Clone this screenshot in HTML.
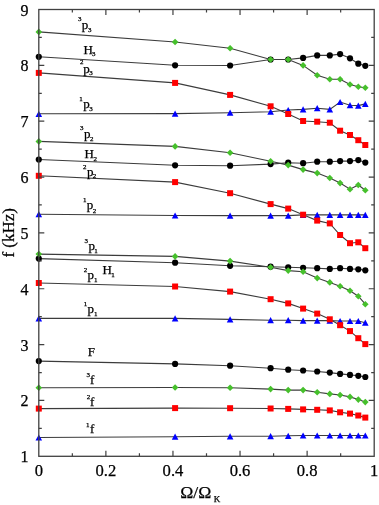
<!DOCTYPE html>
<html><head><meta charset="utf-8"><style>
html,body{margin:0;padding:0;background:#fff;}
body{width:379px;height:505px;overflow:hidden;}
svg{display:block;filter:blur(0.35px);}
text{font-family:"Liberation Serif",serif;fill:#000;stroke:#000;stroke-width:0.25px;}
.t{font-size:16px;}
.tx{font-size:16.6px;}
.l{font-size:13px;}
.s{font-size:7px;}
.ax{font-size:17px;}
.ax2{font-size:17.6px;}
.k{font-size:9px;}
</style></head><body>
<svg width="379" height="505" viewBox="0 0 379 505">
<rect width="379" height="505" fill="#fff"/>
<polyline points="38.8,113.8 175.1,113.6 230.1,112.7 270.6,111.7 288.2,110 303.1,109.4 317.2,108.2 329.8,109.4 340.1,102 350,105.2 358.3,105.6 365.3,103.9" fill="none" stroke="#3c3c3c" stroke-width="1.1"/>
<path d="M38.8 110.7L42.1 116.9L35.5 116.9Z" fill="#0000ff"/>
<path d="M175.1 110.5L178.4 116.7L171.8 116.7Z" fill="#0000ff"/>
<path d="M230.1 109.6L233.4 115.8L226.8 115.8Z" fill="#0000ff"/>
<path d="M270.6 108.6L273.9 114.8L267.3 114.8Z" fill="#0000ff"/>
<path d="M288.2 106.9L291.5 113.1L284.9 113.1Z" fill="#0000ff"/>
<path d="M303.1 106.3L306.4 112.5L299.8 112.5Z" fill="#0000ff"/>
<path d="M317.2 105.1L320.5 111.3L313.9 111.3Z" fill="#0000ff"/>
<path d="M329.8 106.3L333.1 112.5L326.5 112.5Z" fill="#0000ff"/>
<path d="M340.1 98.9L343.4 105.1L336.8 105.1Z" fill="#0000ff"/>
<path d="M350 102.1L353.3 108.3L346.7 108.3Z" fill="#0000ff"/>
<path d="M358.3 102.5L361.6 108.7L355 108.7Z" fill="#0000ff"/>
<path d="M365.3 100.8L368.6 107L362 107Z" fill="#0000ff"/>
<polyline points="38.8,214.2 175.1,215.5 230.1,215.6 270.6,215.6 288.2,215.6 303.1,214.9 317.2,214.9 329.8,214.9 340.1,214.9 350,214.9 358.3,214.9 365.3,214.9" fill="none" stroke="#3c3c3c" stroke-width="1.1"/>
<path d="M38.8 211.1L42.1 217.3L35.5 217.3Z" fill="#0000ff"/>
<path d="M175.1 212.4L178.4 218.6L171.8 218.6Z" fill="#0000ff"/>
<path d="M230.1 212.5L233.4 218.7L226.8 218.7Z" fill="#0000ff"/>
<path d="M270.6 212.5L273.9 218.7L267.3 218.7Z" fill="#0000ff"/>
<path d="M288.2 212.5L291.5 218.7L284.9 218.7Z" fill="#0000ff"/>
<path d="M303.1 211.8L306.4 218L299.8 218Z" fill="#0000ff"/>
<path d="M317.2 211.8L320.5 218L313.9 218Z" fill="#0000ff"/>
<path d="M329.8 211.8L333.1 218L326.5 218Z" fill="#0000ff"/>
<path d="M340.1 211.8L343.4 218L336.8 218Z" fill="#0000ff"/>
<path d="M350 211.8L353.3 218L346.7 218Z" fill="#0000ff"/>
<path d="M358.3 211.8L361.6 218L355 218Z" fill="#0000ff"/>
<path d="M365.3 211.8L368.6 218L362 218Z" fill="#0000ff"/>
<polyline points="38.8,318.4 175.1,318.4 230.1,319.4 270.6,320.2 288.2,320.2 303.1,320.6 317.2,320.6 329.8,320.6 340.1,321 350,321 358.3,321 365.3,322.7" fill="none" stroke="#3c3c3c" stroke-width="1.1"/>
<path d="M38.8 315.3L42.1 321.5L35.5 321.5Z" fill="#0000ff"/>
<path d="M175.1 315.3L178.4 321.5L171.8 321.5Z" fill="#0000ff"/>
<path d="M230.1 316.3L233.4 322.5L226.8 322.5Z" fill="#0000ff"/>
<path d="M270.6 317.1L273.9 323.3L267.3 323.3Z" fill="#0000ff"/>
<path d="M288.2 317.1L291.5 323.3L284.9 323.3Z" fill="#0000ff"/>
<path d="M303.1 317.5L306.4 323.7L299.8 323.7Z" fill="#0000ff"/>
<path d="M317.2 317.5L320.5 323.7L313.9 323.7Z" fill="#0000ff"/>
<path d="M329.8 317.5L333.1 323.7L326.5 323.7Z" fill="#0000ff"/>
<path d="M340.1 317.9L343.4 324.1L336.8 324.1Z" fill="#0000ff"/>
<path d="M350 317.9L353.3 324.1L346.7 324.1Z" fill="#0000ff"/>
<path d="M358.3 317.9L361.6 324.1L355 324.1Z" fill="#0000ff"/>
<path d="M365.3 319.6L368.6 325.8L362 325.8Z" fill="#0000ff"/>
<polyline points="38.8,437.5 175.1,436.7 230.1,436.3 270.6,436.2 288.2,435.8 303.1,435.5 317.2,435.5 329.8,435.5 340.1,435.5 350,435.5 358.3,435.5 365.3,435.5" fill="none" stroke="#3c3c3c" stroke-width="1.1"/>
<path d="M38.8 434.4L42.1 440.6L35.5 440.6Z" fill="#0000ff"/>
<path d="M175.1 433.6L178.4 439.8L171.8 439.8Z" fill="#0000ff"/>
<path d="M230.1 433.2L233.4 439.4L226.8 439.4Z" fill="#0000ff"/>
<path d="M270.6 433.1L273.9 439.3L267.3 439.3Z" fill="#0000ff"/>
<path d="M288.2 432.7L291.5 438.9L284.9 438.9Z" fill="#0000ff"/>
<path d="M303.1 432.4L306.4 438.6L299.8 438.6Z" fill="#0000ff"/>
<path d="M317.2 432.4L320.5 438.6L313.9 438.6Z" fill="#0000ff"/>
<path d="M329.8 432.4L333.1 438.6L326.5 438.6Z" fill="#0000ff"/>
<path d="M340.1 432.4L343.4 438.6L336.8 438.6Z" fill="#0000ff"/>
<path d="M350 432.4L353.3 438.6L346.7 438.6Z" fill="#0000ff"/>
<path d="M358.3 432.4L361.6 438.6L355 438.6Z" fill="#0000ff"/>
<path d="M365.3 432.4L368.6 438.6L362 438.6Z" fill="#0000ff"/>
<polyline points="38.8,72.9 175.1,82.9 230.1,94.9 270.6,106.3 288.2,114 303.1,121 317.2,121.7 329.8,122.7 340.1,130.7 350,135 358.3,140.2 365.3,145" fill="none" stroke="#3c3c3c" stroke-width="1.1"/>
<rect x="35.8" y="69.9" width="6" height="6" fill="#ff0000"/>
<rect x="172.1" y="79.9" width="6" height="6" fill="#ff0000"/>
<rect x="227.1" y="91.9" width="6" height="6" fill="#ff0000"/>
<rect x="267.6" y="103.3" width="6" height="6" fill="#ff0000"/>
<rect x="285.2" y="111" width="6" height="6" fill="#ff0000"/>
<rect x="300.1" y="118" width="6" height="6" fill="#ff0000"/>
<rect x="314.2" y="118.7" width="6" height="6" fill="#ff0000"/>
<rect x="326.8" y="119.7" width="6" height="6" fill="#ff0000"/>
<rect x="337.1" y="127.7" width="6" height="6" fill="#ff0000"/>
<rect x="347" y="132" width="6" height="6" fill="#ff0000"/>
<rect x="355.3" y="137.2" width="6" height="6" fill="#ff0000"/>
<rect x="362.3" y="142" width="6" height="6" fill="#ff0000"/>
<polyline points="38.8,175.8 175.1,182.1 230.1,193.2 270.6,204.1 288.2,208.6 303.1,214.7 317.2,220.6 329.8,223.4 340.1,235 350,243.2 358.3,242.3 365.3,248.2" fill="none" stroke="#3c3c3c" stroke-width="1.1"/>
<rect x="35.8" y="172.8" width="6" height="6" fill="#ff0000"/>
<rect x="172.1" y="179.1" width="6" height="6" fill="#ff0000"/>
<rect x="227.1" y="190.2" width="6" height="6" fill="#ff0000"/>
<rect x="267.6" y="201.1" width="6" height="6" fill="#ff0000"/>
<rect x="285.2" y="205.6" width="6" height="6" fill="#ff0000"/>
<rect x="300.1" y="211.7" width="6" height="6" fill="#ff0000"/>
<rect x="314.2" y="217.6" width="6" height="6" fill="#ff0000"/>
<rect x="326.8" y="220.4" width="6" height="6" fill="#ff0000"/>
<rect x="337.1" y="232" width="6" height="6" fill="#ff0000"/>
<rect x="347" y="240.2" width="6" height="6" fill="#ff0000"/>
<rect x="355.3" y="239.3" width="6" height="6" fill="#ff0000"/>
<rect x="362.3" y="245.2" width="6" height="6" fill="#ff0000"/>
<polyline points="38.8,283 175.1,286.5 230.1,291.6 270.6,299.2 288.2,303.4 303.1,308.6 317.2,313.6 329.8,319.3 340.1,325.2 350,331.1 358.3,338.2 365.3,344.1" fill="none" stroke="#3c3c3c" stroke-width="1.1"/>
<rect x="35.8" y="280" width="6" height="6" fill="#ff0000"/>
<rect x="172.1" y="283.5" width="6" height="6" fill="#ff0000"/>
<rect x="227.1" y="288.6" width="6" height="6" fill="#ff0000"/>
<rect x="267.6" y="296.2" width="6" height="6" fill="#ff0000"/>
<rect x="285.2" y="300.4" width="6" height="6" fill="#ff0000"/>
<rect x="300.1" y="305.6" width="6" height="6" fill="#ff0000"/>
<rect x="314.2" y="310.6" width="6" height="6" fill="#ff0000"/>
<rect x="326.8" y="316.3" width="6" height="6" fill="#ff0000"/>
<rect x="337.1" y="322.2" width="6" height="6" fill="#ff0000"/>
<rect x="347" y="328.1" width="6" height="6" fill="#ff0000"/>
<rect x="355.3" y="335.2" width="6" height="6" fill="#ff0000"/>
<rect x="362.3" y="341.1" width="6" height="6" fill="#ff0000"/>
<polyline points="38.8,408.6 175.1,408.1 230.1,408.2 270.6,408.5 288.2,408.9 303.1,409.4 317.2,409.8 329.8,410.4 340.1,412.3 350,413.6 358.3,415.5 365.3,417.6" fill="none" stroke="#3c3c3c" stroke-width="1.1"/>
<rect x="35.8" y="405.6" width="6" height="6" fill="#ff0000"/>
<rect x="172.1" y="405.1" width="6" height="6" fill="#ff0000"/>
<rect x="227.1" y="405.2" width="6" height="6" fill="#ff0000"/>
<rect x="267.6" y="405.5" width="6" height="6" fill="#ff0000"/>
<rect x="285.2" y="405.9" width="6" height="6" fill="#ff0000"/>
<rect x="300.1" y="406.4" width="6" height="6" fill="#ff0000"/>
<rect x="314.2" y="406.8" width="6" height="6" fill="#ff0000"/>
<rect x="326.8" y="407.4" width="6" height="6" fill="#ff0000"/>
<rect x="337.1" y="409.3" width="6" height="6" fill="#ff0000"/>
<rect x="347" y="410.6" width="6" height="6" fill="#ff0000"/>
<rect x="355.3" y="412.5" width="6" height="6" fill="#ff0000"/>
<rect x="362.3" y="414.6" width="6" height="6" fill="#ff0000"/>
<polyline points="38.8,56.8 175.1,65.3 230.1,65.5 270.6,59.5 288.2,59.5 303.1,57.9 317.2,55.4 329.8,55.4 340.1,54.1 350,58.3 358.3,63.7 365.3,65.8" fill="none" stroke="#3c3c3c" stroke-width="1.1"/>
<circle cx="38.8" cy="56.8" r="3.1" fill="#000"/>
<circle cx="175.1" cy="65.3" r="3.1" fill="#000"/>
<circle cx="230.1" cy="65.5" r="3.1" fill="#000"/>
<circle cx="270.6" cy="59.5" r="3.1" fill="#000"/>
<circle cx="288.2" cy="59.5" r="3.1" fill="#000"/>
<circle cx="303.1" cy="57.9" r="3.1" fill="#000"/>
<circle cx="317.2" cy="55.4" r="3.1" fill="#000"/>
<circle cx="329.8" cy="55.4" r="3.1" fill="#000"/>
<circle cx="340.1" cy="54.1" r="3.1" fill="#000"/>
<circle cx="350" cy="58.3" r="3.1" fill="#000"/>
<circle cx="358.3" cy="63.7" r="3.1" fill="#000"/>
<circle cx="365.3" cy="65.8" r="3.1" fill="#000"/>
<polyline points="38.8,159.5 175.1,165.3 230.1,165.7 270.6,164.1 288.2,162.7 303.1,163.2 317.2,161.7 329.8,161.7 340.1,161.1 350,161.1 358.3,160.1 365.3,162.6" fill="none" stroke="#3c3c3c" stroke-width="1.1"/>
<circle cx="38.8" cy="159.5" r="3.1" fill="#000"/>
<circle cx="175.1" cy="165.3" r="3.1" fill="#000"/>
<circle cx="230.1" cy="165.7" r="3.1" fill="#000"/>
<circle cx="270.6" cy="164.1" r="3.1" fill="#000"/>
<circle cx="288.2" cy="162.7" r="3.1" fill="#000"/>
<circle cx="303.1" cy="163.2" r="3.1" fill="#000"/>
<circle cx="317.2" cy="161.7" r="3.1" fill="#000"/>
<circle cx="329.8" cy="161.7" r="3.1" fill="#000"/>
<circle cx="340.1" cy="161.1" r="3.1" fill="#000"/>
<circle cx="350" cy="161.1" r="3.1" fill="#000"/>
<circle cx="358.3" cy="160.1" r="3.1" fill="#000"/>
<circle cx="365.3" cy="162.6" r="3.1" fill="#000"/>
<polyline points="38.8,258.6 175.1,262.7 230.1,265.8 270.6,266.7 288.2,267.3 303.1,267.8 317.2,268.2 329.8,268.9 340.1,268.2 350,268.9 358.3,269.3 365.3,270.3" fill="none" stroke="#3c3c3c" stroke-width="1.1"/>
<circle cx="38.8" cy="258.6" r="3.1" fill="#000"/>
<circle cx="175.1" cy="262.7" r="3.1" fill="#000"/>
<circle cx="230.1" cy="265.8" r="3.1" fill="#000"/>
<circle cx="270.6" cy="266.7" r="3.1" fill="#000"/>
<circle cx="288.2" cy="267.3" r="3.1" fill="#000"/>
<circle cx="303.1" cy="267.8" r="3.1" fill="#000"/>
<circle cx="317.2" cy="268.2" r="3.1" fill="#000"/>
<circle cx="329.8" cy="268.9" r="3.1" fill="#000"/>
<circle cx="340.1" cy="268.2" r="3.1" fill="#000"/>
<circle cx="350" cy="268.9" r="3.1" fill="#000"/>
<circle cx="358.3" cy="269.3" r="3.1" fill="#000"/>
<circle cx="365.3" cy="270.3" r="3.1" fill="#000"/>
<polyline points="38.8,361.1 175.1,363.9 230.1,365.7 270.6,368.2 288.2,369.7 303.1,370.5 317.2,371.5 329.8,372.6 340.1,373.9 350,374.9 358.3,375.8 365.3,377" fill="none" stroke="#3c3c3c" stroke-width="1.1"/>
<circle cx="38.8" cy="361.1" r="3.1" fill="#000"/>
<circle cx="175.1" cy="363.9" r="3.1" fill="#000"/>
<circle cx="230.1" cy="365.7" r="3.1" fill="#000"/>
<circle cx="270.6" cy="368.2" r="3.1" fill="#000"/>
<circle cx="288.2" cy="369.7" r="3.1" fill="#000"/>
<circle cx="303.1" cy="370.5" r="3.1" fill="#000"/>
<circle cx="317.2" cy="371.5" r="3.1" fill="#000"/>
<circle cx="329.8" cy="372.6" r="3.1" fill="#000"/>
<circle cx="340.1" cy="373.9" r="3.1" fill="#000"/>
<circle cx="350" cy="374.9" r="3.1" fill="#000"/>
<circle cx="358.3" cy="375.8" r="3.1" fill="#000"/>
<circle cx="365.3" cy="377" r="3.1" fill="#000"/>
<polyline points="38.8,31.9 175.1,42 230.1,48.2 270.6,59.5 288.2,59.5 303.1,65.4 317.2,75.3 329.8,79.3 340.1,79.3 350,84.5 358.3,86.7 365.3,87.8" fill="none" stroke="#3c3c3c" stroke-width="1.1"/>
<path d="M38.8 28.6L42.1 31.9L38.8 35.2L35.5 31.9Z" fill="#46c02c"/>
<path d="M175.1 38.7L178.4 42L175.1 45.3L171.8 42Z" fill="#46c02c"/>
<path d="M230.1 44.9L233.4 48.2L230.1 51.5L226.8 48.2Z" fill="#46c02c"/>
<path d="M270.6 56.2L273.9 59.5L270.6 62.8L267.3 59.5Z" fill="#46c02c"/>
<path d="M288.2 56.2L291.5 59.5L288.2 62.8L284.9 59.5Z" fill="#46c02c"/>
<path d="M303.1 62.1L306.4 65.4L303.1 68.7L299.8 65.4Z" fill="#46c02c"/>
<path d="M317.2 72L320.5 75.3L317.2 78.6L313.9 75.3Z" fill="#46c02c"/>
<path d="M329.8 76L333.1 79.3L329.8 82.6L326.5 79.3Z" fill="#46c02c"/>
<path d="M340.1 76L343.4 79.3L340.1 82.6L336.8 79.3Z" fill="#46c02c"/>
<path d="M350 81.2L353.3 84.5L350 87.8L346.7 84.5Z" fill="#46c02c"/>
<path d="M358.3 83.4L361.6 86.7L358.3 90L355 86.7Z" fill="#46c02c"/>
<path d="M365.3 84.5L368.6 87.8L365.3 91.1L362 87.8Z" fill="#46c02c"/>
<polyline points="38.8,141.4 175.1,146.4 230.1,152.8 270.6,161.3 288.2,165.1 303.1,169.6 317.2,173.1 329.8,178 340.1,183.1 350,189.2 358.3,185 365.3,190.2" fill="none" stroke="#3c3c3c" stroke-width="1.1"/>
<path d="M38.8 138.1L42.1 141.4L38.8 144.7L35.5 141.4Z" fill="#46c02c"/>
<path d="M175.1 143.1L178.4 146.4L175.1 149.7L171.8 146.4Z" fill="#46c02c"/>
<path d="M230.1 149.5L233.4 152.8L230.1 156.1L226.8 152.8Z" fill="#46c02c"/>
<path d="M270.6 158L273.9 161.3L270.6 164.6L267.3 161.3Z" fill="#46c02c"/>
<path d="M288.2 161.8L291.5 165.1L288.2 168.4L284.9 165.1Z" fill="#46c02c"/>
<path d="M303.1 166.3L306.4 169.6L303.1 172.9L299.8 169.6Z" fill="#46c02c"/>
<path d="M317.2 169.8L320.5 173.1L317.2 176.4L313.9 173.1Z" fill="#46c02c"/>
<path d="M329.8 174.7L333.1 178L329.8 181.3L326.5 178Z" fill="#46c02c"/>
<path d="M340.1 179.8L343.4 183.1L340.1 186.4L336.8 183.1Z" fill="#46c02c"/>
<path d="M350 185.9L353.3 189.2L350 192.5L346.7 189.2Z" fill="#46c02c"/>
<path d="M358.3 181.7L361.6 185L358.3 188.3L355 185Z" fill="#46c02c"/>
<path d="M365.3 186.9L368.6 190.2L365.3 193.5L362 190.2Z" fill="#46c02c"/>
<polyline points="38.8,254.1 175.1,256.4 230.1,261.1 270.6,267.3 288.2,270.6 303.1,271.8 317.2,278.1 329.8,282.4 340.1,286.2 350,290.8 358.3,296.2 365.3,304.2" fill="none" stroke="#3c3c3c" stroke-width="1.1"/>
<path d="M38.8 250.8L42.1 254.1L38.8 257.4L35.5 254.1Z" fill="#46c02c"/>
<path d="M175.1 253.1L178.4 256.4L175.1 259.7L171.8 256.4Z" fill="#46c02c"/>
<path d="M230.1 257.8L233.4 261.1L230.1 264.4L226.8 261.1Z" fill="#46c02c"/>
<path d="M270.6 264L273.9 267.3L270.6 270.6L267.3 267.3Z" fill="#46c02c"/>
<path d="M288.2 267.3L291.5 270.6L288.2 273.9L284.9 270.6Z" fill="#46c02c"/>
<path d="M303.1 268.5L306.4 271.8L303.1 275.1L299.8 271.8Z" fill="#46c02c"/>
<path d="M317.2 274.8L320.5 278.1L317.2 281.4L313.9 278.1Z" fill="#46c02c"/>
<path d="M329.8 279.1L333.1 282.4L329.8 285.7L326.5 282.4Z" fill="#46c02c"/>
<path d="M340.1 282.9L343.4 286.2L340.1 289.5L336.8 286.2Z" fill="#46c02c"/>
<path d="M350 287.5L353.3 290.8L350 294.1L346.7 290.8Z" fill="#46c02c"/>
<path d="M358.3 292.9L361.6 296.2L358.3 299.5L355 296.2Z" fill="#46c02c"/>
<path d="M365.3 300.9L368.6 304.2L365.3 307.5L362 304.2Z" fill="#46c02c"/>
<polyline points="38.8,387.7 175.1,387.5 230.1,387.8 270.6,389.1 288.2,390.1 303.1,390.1 317.2,392.2 329.8,393.9 340.1,395 350,396.9 358.3,399.6 365.3,402.1" fill="none" stroke="#3c3c3c" stroke-width="1.1"/>
<path d="M38.8 384.4L42.1 387.7L38.8 391L35.5 387.7Z" fill="#46c02c"/>
<path d="M175.1 384.2L178.4 387.5L175.1 390.8L171.8 387.5Z" fill="#46c02c"/>
<path d="M230.1 384.5L233.4 387.8L230.1 391.1L226.8 387.8Z" fill="#46c02c"/>
<path d="M270.6 385.8L273.9 389.1L270.6 392.4L267.3 389.1Z" fill="#46c02c"/>
<path d="M288.2 386.8L291.5 390.1L288.2 393.4L284.9 390.1Z" fill="#46c02c"/>
<path d="M303.1 386.8L306.4 390.1L303.1 393.4L299.8 390.1Z" fill="#46c02c"/>
<path d="M317.2 388.9L320.5 392.2L317.2 395.5L313.9 392.2Z" fill="#46c02c"/>
<path d="M329.8 390.6L333.1 393.9L329.8 397.2L326.5 393.9Z" fill="#46c02c"/>
<path d="M340.1 391.7L343.4 395L340.1 398.3L336.8 395Z" fill="#46c02c"/>
<path d="M350 393.6L353.3 396.9L350 400.2L346.7 396.9Z" fill="#46c02c"/>
<path d="M358.3 396.3L361.6 399.6L358.3 402.9L355 399.6Z" fill="#46c02c"/>
<path d="M365.3 398.8L368.6 402.1L365.3 405.4L362 402.1Z" fill="#46c02c"/>
<rect x="38.8" y="9.5" width="335.4" height="446.8" fill="none" stroke="#404040" stroke-width="1.3"/>
<path d="M72.34 456.3V453.3 M72.34 9.5V12.5 M105.88 456.3V450.8 M105.88 9.5V15 M139.42 456.3V453.3 M139.42 9.5V12.5 M172.96 456.3V450.8 M172.96 9.5V15 M206.5 456.3V453.3 M206.5 9.5V12.5 M240.04 456.3V450.8 M240.04 9.5V15 M273.58 456.3V453.3 M273.58 9.5V12.5 M307.12 456.3V450.8 M307.12 9.5V15 M340.66 456.3V453.3 M340.66 9.5V12.5 M38.8 428.38H41.8 M374.2 428.38H371.2 M38.8 400.45H44.3 M374.2 400.45H368.7 M38.8 372.53H41.8 M374.2 372.53H371.2 M38.8 344.6H44.3 M374.2 344.6H368.7 M38.8 316.68H41.8 M374.2 316.68H371.2 M38.8 288.75H44.3 M374.2 288.75H368.7 M38.8 260.83H41.8 M374.2 260.83H371.2 M38.8 232.9H44.3 M374.2 232.9H368.7 M38.8 204.97H41.8 M374.2 204.97H371.2 M38.8 177.05H44.3 M374.2 177.05H368.7 M38.8 149.12H41.8 M374.2 149.12H371.2 M38.8 121.2H44.3 M374.2 121.2H368.7 M38.8 93.28H41.8 M374.2 93.28H371.2 M38.8 65.35H44.3 M374.2 65.35H368.7 M38.8 37.42H41.8 M374.2 37.42H371.2" stroke="#404040" stroke-width="1.2" fill="none"/>
<text x="28.6" y="462.3" text-anchor="end" class="t">1</text>
<text x="28.6" y="406.45" text-anchor="end" class="t">2</text>
<text x="28.6" y="350.6" text-anchor="end" class="t">3</text>
<text x="28.6" y="294.75" text-anchor="end" class="t">4</text>
<text x="28.6" y="238.9" text-anchor="end" class="t">5</text>
<text x="28.6" y="183.05" text-anchor="end" class="t">6</text>
<text x="28.6" y="127.2" text-anchor="end" class="t">7</text>
<text x="28.6" y="71.35" text-anchor="end" class="t">8</text>
<text x="28.6" y="15.5" text-anchor="end" class="t">9</text>
<text x="38.8" y="475.5" text-anchor="middle" class="tx">0</text>
<text x="105.88" y="475.5" text-anchor="middle" class="tx">0.2</text>
<text x="172.96" y="475.5" text-anchor="middle" class="tx">0.4</text>
<text x="240.04" y="475.5" text-anchor="middle" class="tx">0.6</text>
<text x="307.12" y="475.5" text-anchor="middle" class="tx">0.8</text>
<text x="374.2" y="475.5" text-anchor="middle" class="tx">1</text>
<text x="81.7" y="29.3" class="l">p</text>
<text x="77.9" y="21.4" class="s">3</text>
<text x="87.9" y="32.4" class="s">3</text>
<text x="83.5" y="54.3" class="l">H</text>
<text x="91.9" y="56.4" class="s">3</text>
<text x="83.2" y="72.5" class="l">p</text>
<text x="79.9" y="64.3" class="s">2</text>
<text x="89.3" y="75.4" class="s">3</text>
<text x="83.2" y="108.3" class="l">p</text>
<text x="79.2" y="100.7" class="s">1</text>
<text x="89.3" y="110.8" class="s">3</text>
<text x="83.9" y="138.1" class="l">p</text>
<text x="80.1" y="130.4" class="s">3</text>
<text x="90" y="140.8" class="s">2</text>
<text x="84.6" y="157.7" class="l">H</text>
<text x="93.5" y="161" class="s">2</text>
<text x="86.9" y="175.5" class="l">p</text>
<text x="83.1" y="168.7" class="s">2</text>
<text x="92.7" y="178.2" class="s">2</text>
<text x="86.7" y="209.3" class="l">p</text>
<text x="83.1" y="202.2" class="s">1</text>
<text x="92.8" y="212.8" class="s">2</text>
<text x="88.5" y="250.1" class="l">p</text>
<text x="84.4" y="242.6" class="s">3</text>
<text x="94.2" y="253" class="s">1</text>
<text x="87.4" y="279.1" class="l">p</text>
<text x="83.8" y="271.9" class="s">2</text>
<text x="93.9" y="282.4" class="s">1</text>
<text x="102.5" y="273.7" class="l">H</text>
<text x="111.2" y="276.9" class="s">1</text>
<text x="87.4" y="312.6" class="l">p</text>
<text x="83.8" y="305.5" class="s">1</text>
<text x="93.9" y="315.9" class="s">1</text>
<text x="87.7" y="356.2" class="l">F</text>
<text x="89.9" y="383.7" class="l">f</text>
<text x="86.4" y="377" class="s">3</text>
<text x="89.9" y="405.9" class="l">f</text>
<text x="86.7" y="399.4" class="s">2</text>
<text x="89.9" y="433.1" class="l">f</text>
<text x="86.1" y="427.1" class="s">1</text>
<text transform="translate(14.2,232.8) rotate(-90)" text-anchor="middle" class="ax">f (kHz)</text>
<text x="180.2" y="498.4" class="ax2">&#937;/&#937;</text>
<text x="213.8" y="502.1" class="k">K</text>
</svg>
</body></html>
